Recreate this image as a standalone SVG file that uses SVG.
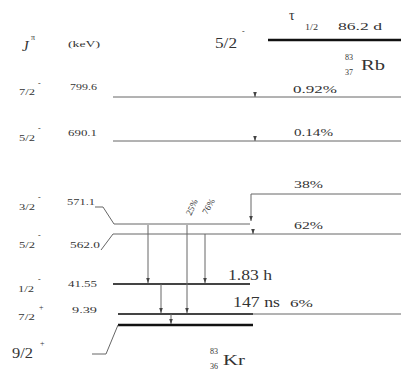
<svg xmlns="http://www.w3.org/2000/svg" width="401" height="374" viewBox="0 0 401 374">
<defs>
<style>
text{font-family:"Liberation Serif","Times New Roman","DejaVu Serif",serif;fill:#333}
.s{font-size:9px}
.m{font-size:11px}
.l{font-size:14px}
.sup{font-size:8px}
.lv{stroke:#666;stroke-width:1;fill:none}
.lvb{stroke:#444;stroke-width:1.8;fill:none}
.lvk{stroke:#111;stroke-width:2.6;fill:none}
</style>
<marker id="ad" markerWidth="6" markerHeight="6" refX="3" refY="5.5" orient="0" markerUnits="userSpaceOnUse" viewBox="0 0 6 6">
<path d="M1,0 L3,5.5 L5,0 Z" fill="#444"/>
</marker>
</defs>
<rect width="401" height="374" fill="#fff"/>

<g id="header">
<text x="22" y="51" style="font-size:15px;font-style:italic">J</text>
<text x="31" y="40" class="sup">π</text>
<text x="68" y="47" class="s" textLength="32" lengthAdjust="spacingAndGlyphs">(keV)</text>
</g>

<g id="parent">
<path class="lvk" d="M268,40 H401"/>
<text x="215" y="48" class="l" textLength="22" lengthAdjust="spacingAndGlyphs">5/2</text>
<text x="242" y="34" class="sup">-</text>
<text x="289" y="20" style="font-size:14px">τ</text>
<text x="305" y="30" class="s" textLength="13" lengthAdjust="spacingAndGlyphs">1/2</text>
<text x="338" y="30" class="m" textLength="44" lengthAdjust="spacingAndGlyphs">86.2 d</text>
<text x="345" y="60" class="sup">83</text>
<text x="345" y="75" class="sup">37</text>
<text x="361" y="70" class="l" textLength="24" lengthAdjust="spacingAndGlyphs">Rb</text>
</g>

<g id="level-799">
<path class="lv" d="M113,97 H401"/>
<text x="19" y="95" class="s" textLength="16" lengthAdjust="spacingAndGlyphs">7/2</text>
<text x="38" y="86" class="sup">-</text>
<text x="70" y="90" class="s" textLength="27" lengthAdjust="spacingAndGlyphs">799.6</text>
<text x="293" y="93" class="m" textLength="44" lengthAdjust="spacingAndGlyphs">0.92%</text>
</g>

<g id="level-690">
<path class="lv" d="M113,141 H401"/>
<text x="19" y="141" class="s" textLength="16" lengthAdjust="spacingAndGlyphs">5/2</text>
<text x="38" y="131" class="sup">-</text>
<text x="68" y="136" class="s" textLength="29" lengthAdjust="spacingAndGlyphs">690.1</text>
<text x="294" y="136" class="m" textLength="39" lengthAdjust="spacingAndGlyphs">0.14%</text>
</g>

<g id="level-571">
<path class="lv" d="M95,207 H103 L114,224 H250"/>
<text x="19" y="210" class="s" textLength="16" lengthAdjust="spacingAndGlyphs">3/2</text>
<text x="38" y="200" class="sup">-</text>
<text x="67" y="205" class="s" textLength="28" lengthAdjust="spacingAndGlyphs">571.1</text>
<text x="294" y="188" class="m" textLength="29" lengthAdjust="spacingAndGlyphs">38%</text>
</g>

<g id="level-562">
<path class="lv" d="M101,250 L113,234 H401"/>
<text x="19" y="248" class="s" textLength="16" lengthAdjust="spacingAndGlyphs">5/2</text>
<text x="38" y="238" class="sup">-</text>
<text x="70" y="248" class="s" textLength="30" lengthAdjust="spacingAndGlyphs">562.0</text>
<text x="294" y="229" class="m" textLength="29" lengthAdjust="spacingAndGlyphs">62%</text>
</g>

<g id="level-41">
<path class="lvb" d="M113,284 H250"/>
<text x="18" y="292" class="s" textLength="16" lengthAdjust="spacingAndGlyphs">1/2</text>
<text x="38" y="282" class="sup">-</text>
<text x="68" y="287" class="s" textLength="29" lengthAdjust="spacingAndGlyphs">41.55</text>
<text x="228" y="280" class="l" textLength="44" lengthAdjust="spacingAndGlyphs">1.83 h</text>
</g>

<g id="level-9">
<path class="lvb" d="M118,314 H253"/>
<path class="lv" d="M253,314 H401"/>
<text x="18" y="320" class="s" textLength="17" lengthAdjust="spacingAndGlyphs">7/2</text>
<text x="39" y="310" class="sup">+</text>
<text x="72" y="313" class="s" textLength="25" lengthAdjust="spacingAndGlyphs">9.39</text>
<text x="233" y="307" class="l" textLength="47" lengthAdjust="spacingAndGlyphs">147 ns</text>
<text x="290" y="307" class="m" textLength="23" lengthAdjust="spacingAndGlyphs">6%</text>
</g>

<g id="level-0">
<path class="lvk" d="M118,325 H253"/>
<path class="lv" d="M118,325 L106,354 H92"/>
<text x="12" y="358" style="font-size:14px" textLength="21" lengthAdjust="spacingAndGlyphs">9/2</text>
<text x="40" y="346" class="sup">+</text>
<text x="210" y="354" class="sup">83</text>
<text x="210" y="369" class="sup">36</text>
<text x="223" y="365" class="l" textLength="22" lengthAdjust="spacingAndGlyphs">Kr</text>
</g>

<g id="connectors">
<path class="lv" d="M401,194 H251 V221" marker-end="url(#ad)"/>
<path class="lv" d="M255,92 V97" marker-end="url(#ad)"/>
<path class="lv" d="M255,136 V141" marker-end="url(#ad)"/>
<path class="lv" d="M253,229 V234" marker-end="url(#ad)"/>
<path class="lv" d="M148,225 V283" marker-end="url(#ad)"/>
<path class="lv" d="M187,225 V313" marker-end="url(#ad)"/>
<path class="lv" d="M205,234 V283" marker-end="url(#ad)"/>
<path class="lv" d="M161,284 V313" marker-end="url(#ad)"/>
<path class="lv" d="M171,314 V324" marker-end="url(#ad)"/>
<text style="font-size:9px" transform="translate(191,216) rotate(-65)">25%</text>
<text style="font-size:9px" transform="translate(207,215) rotate(-60)">76%</text>
</g>
</svg>
